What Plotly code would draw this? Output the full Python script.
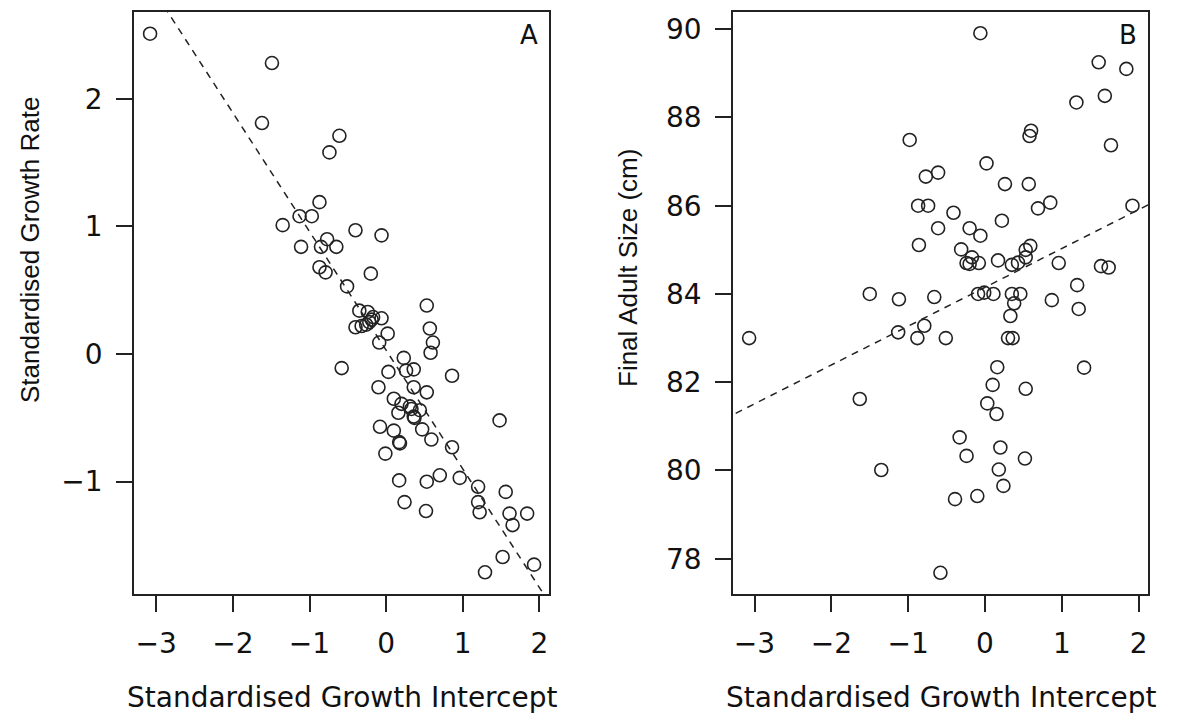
import plotly.graph_objects as go

# ---------------- Panel A data ----------------
a_x = [-3.08, -1.49, -1.62, -0.61, -0.74, -0.87, -1.13, -0.97, -1.35, -0.77,
       -1.11, -0.85, -0.65, -0.87, -0.79, -0.51, -0.40, -0.06, -0.20, 0.53,
       -0.35, -0.24, -0.17, -0.06, -0.40, -0.32, -0.26, -0.22, -0.19, 0.02,
       -0.09, 0.57, 0.61, 0.58, 0.23, -0.58, 0.03, 0.26, 0.36, 0.86,
       -0.10, 0.36, 0.53, 0.10, 0.20, 0.31, 0.44, 0.16, 0.36, 0.37,
       0.47, -0.08, 0.10, 0.17, 0.18, 0.59, -0.01, 0.86, 1.48, 0.17,
       0.53, 0.70, 0.96, 1.20, 1.56, 0.24, 1.20, 1.22, 0.52, 1.61,
       1.84, 1.65, 1.52, 1.93, 1.29, 0.33]
a_y = [2.51, 2.28, 1.81, 1.71, 1.58, 1.19, 1.08, 1.08, 1.01, 0.90,
       0.84, 0.84, 0.84, 0.68, 0.64, 0.53, 0.97, 0.93, 0.63, 0.38,
       0.34, 0.33, 0.29, 0.28, 0.21, 0.22, 0.23, 0.25, 0.27, 0.16,
       0.09, 0.20, 0.09, 0.01, -0.03, -0.11, -0.14, -0.13, -0.12, -0.17,
       -0.26, -0.26, -0.30, -0.35, -0.39, -0.41, -0.44, -0.46, -0.49, -0.50,
       -0.59, -0.57, -0.60, -0.69, -0.70, -0.67, -0.78, -0.73, -0.52, -0.99,
       -1.00, -0.95, -0.97, -1.04, -1.08, -1.16, -1.16, -1.24, -1.23, -1.25,
       -1.25, -1.34, -1.59, -1.65, -1.71, -0.43]
a_slope, a_intercept = -0.93, 0.03

# ---------------- Panel B data ----------------
b_x = [-3.07, -1.63, -1.35, -1.50, -1.12, -1.13, -0.98, -0.88, -0.79, -0.66,
       -0.51, -0.87, -0.74, -0.77, -0.61, -0.41, -0.61, -0.86, -0.31, -0.20,
       -0.17, -0.24, -0.20, -0.08, -0.06, -0.06, 0.02, 0.22, 0.26, 0.57,
       0.17, 0.35, 0.43, 0.53, 0.59, 0.53, 0.69, 0.85, 0.96, 0.60,
       0.58, 1.19, 1.48, 1.56, 1.84, 1.64, 1.92, 1.51, 1.61, 1.20,
       1.22, 0.87, -0.09, -0.01, 0.11, 0.35, 0.46, 0.38, 0.33, 0.30,
       0.36, 0.16, 1.29, 0.10, 0.53, 0.03, 0.15, -0.33, 0.20, -0.24,
       0.52, 0.18, 0.24, -0.39, -0.10, -0.58]
b_y = [83.00, 81.62, 80.01, 84.00, 83.88, 83.13, 87.49, 83.00, 83.28, 83.93,
       83.00, 86.00, 86.00, 86.66, 86.75, 85.84, 85.49, 85.11, 85.01, 85.49,
       84.83, 84.70, 84.68, 84.70, 85.32, 89.91, 86.96, 85.66, 86.49, 86.49,
       84.76, 84.66, 84.71, 85.00, 85.09, 84.83, 85.94, 86.07, 84.70, 87.70,
       87.58, 88.34, 89.25, 88.49, 89.10, 87.37, 86.00, 84.63, 84.60, 84.20,
       83.66, 83.86, 84.00, 84.03, 84.00, 84.00, 84.00, 83.79, 83.50, 83.00,
       83.00, 82.34, 82.33, 81.94, 81.85, 81.52, 81.28, 80.75, 80.52, 80.33,
       80.27, 80.02, 79.65, 79.35, 79.42, 77.68]
b_slope, b_intercept = 0.88, 84.15

x_ticks = [-3, -2, -1, 0, 1, 2]
a_yticks = [-1, 0, 1, 2]
b_yticks = [78, 80, 82, 84, 86, 88, 90]
x_title = "Standardised Growth Intercept"
a_ytitle = "Standardised Growth Rate"
b_ytitle = "Final Adult Size (cm)"

W, H = 1184, 720
INK = "#222222"
HFONT = "DejaVu Sans"
VFONT = "Liberation Sans, Arial, sans-serif"

fig = go.Figure()

marker = dict(symbol="circle-open", size=13, color=INK, line=dict(width=1.6, color=INK))

fig.add_trace(go.Scatter(x=a_x, y=a_y, mode="markers", marker=marker,
                         xaxis="x", yaxis="y", showlegend=False, cliponaxis=False))
fig.add_trace(go.Scatter(x=b_x, y=b_y, mode="markers", marker=marker,
                         xaxis="x2", yaxis="y2", showlegend=False, cliponaxis=False))

# regression lines across a wide span, clipped by the axes
span = [-4.0, 3.0]
fig.add_trace(go.Scatter(x=span, y=[a_intercept + a_slope * v for v in span], mode="lines",
                         line=dict(color=INK, width=1.5, dash="7px,6px"),
                         xaxis="x", yaxis="y", showlegend=False))
fig.add_trace(go.Scatter(x=span, y=[b_intercept + b_slope * v for v in span], mode="lines",
                         line=dict(color=INK, width=1.5, dash="7px,6px"),
                         xaxis="x2", yaxis="y2", showlegend=False))

axis_common = dict(showline=True, linecolor=INK, linewidth=1.5, mirror=True,
                   ticks="outside", ticklen=16, tickwidth=1.5, tickcolor=INK,
                   showgrid=False, zeroline=False,
                   tickfont=dict(family=HFONT, size=28, color="#111"))

y_dom = [1 - 594 / H, 1 - 12 / H]

fig.update_layout(
    width=W, height=H,
    margin=dict(l=0, r=0, t=0, b=0),
    paper_bgcolor="white", plot_bgcolor="white",
    xaxis=dict(domain=[134 / W, 549 / W], range=[-3.29, 2.125], tickvals=x_ticks,
               anchor="y", ticklabelstandoff=8, **axis_common),
    yaxis=dict(domain=y_dom, range=[-1.88, 2.68], tickvals=a_yticks,
               anchor="x", ticklabelstandoff=8, **axis_common),
    xaxis2=dict(domain=[733 / W, 1148 / W], range=[-3.28, 2.122], tickvals=x_ticks,
                anchor="y2", ticklabelstandoff=8, **axis_common),
    yaxis2=dict(domain=y_dom, range=[77.2, 90.39], tickvals=b_yticks,
                anchor="x2", ticklabelstandoff=8, **axis_common),
)

ann = []
ann.append(dict(text=x_title, x=341.5 / W, y=1 - 697 / H, xref="paper", yref="paper",
                showarrow=False, xanchor="center", yanchor="middle",
                font=dict(family=HFONT, size=28, color="#111")))
ann.append(dict(text=x_title, x=940.5 / W, y=1 - 697 / H, xref="paper", yref="paper",
                showarrow=False, xanchor="center", yanchor="middle",
                font=dict(family=HFONT, size=28, color="#111")))
ann.append(dict(text=a_ytitle, x=30 / W, y=1 - 250 / H, xref="paper", yref="paper",
                showarrow=False, xanchor="center", yanchor="middle", textangle=-90,
                font=dict(family=VFONT, size=26, color="#111")))
ann.append(dict(text=b_ytitle, x=628 / W, y=1 - 268 / H, xref="paper", yref="paper",
                showarrow=False, xanchor="center", yanchor="middle", textangle=-90,
                font=dict(family=VFONT, size=26, color="#111")))
ann.append(dict(text="A", x=529 / W, y=1 - 35 / H, xref="paper", yref="paper",
                showarrow=False, xanchor="center", yanchor="middle",
                font=dict(family=HFONT, size=26, color="#111")))
ann.append(dict(text="B", x=1128 / W, y=1 - 35 / H, xref="paper", yref="paper",
                showarrow=False, xanchor="center", yanchor="middle",
                font=dict(family=HFONT, size=26, color="#111")))
fig.update_layout(annotations=ann)

fig.write_html("out.html")
